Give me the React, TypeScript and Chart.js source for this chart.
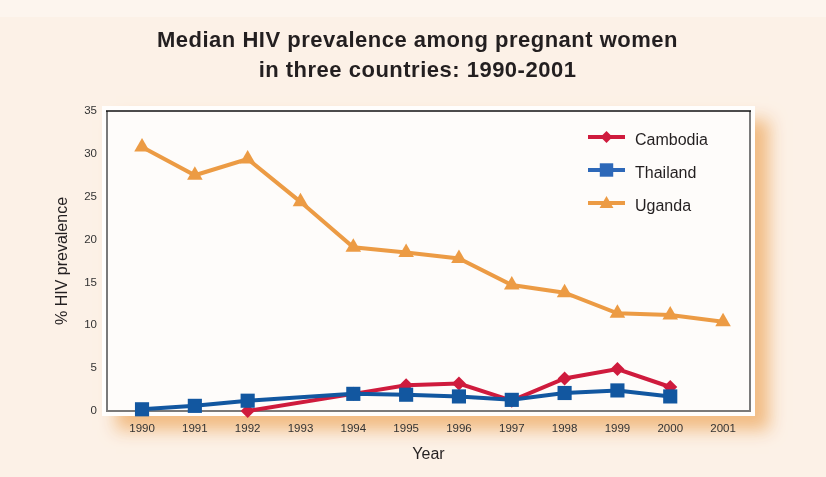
import React, { useEffect, useRef } from 'react';
import { Chart, registerables } from 'chart.js';

Chart.register(...registerables);

const titleLines = ['Median HIV prevalence among pregnant women', 'in three countries: 1990-2001'];
const years = [1990, 1991, 1992, 1993, 1994, 1995, 1996, 1997, 1998, 1999, 2000, 2001];
const cambodia: (number | null)[] = [null, null, 0, null, 2.0, 3.0, 3.2, 1.2, 3.8, 4.9, 2.8, null];
const thailand: (number | null)[] = [0.2, 0.6, 1.2, null, 2.0, 1.9, 1.7, 1.3, 2.1, 2.4, 1.7, null];
const uganda: (number | null)[] = [30.8, 27.5, 29.4, 24.4, 19.1, 18.5, 17.8, 14.7, 13.8, 11.4, 11.2, 10.4];
const seriesNames = ['Cambodia', 'Thailand', 'Uganda'];
const yTickStep = 5;
const yMax = 35;
const xTitle = 'Year';
const yTitle = '% HIV prevalence';

const RED = '#cf1b3d';
const BLUE = '#1257a0';
const ORANGE = '#ec9b44';
const FONT = '"Liberation Sans", Arial, Helvetica, sans-serif';

const toPoints = (arr: (number | null)[]) =>
  years.map((x, i) => ({ x, y: arr[i] })).filter((p) => p.y !== null) as { x: number; y: number }[];

function drawMarker(ctx: CanvasRenderingContext2D, style: string, x: number, y: number, r: number) {
  ctx.beginPath();
  if (style === 'rect') {
    const s = r * Math.SQRT1_2;
    ctx.rect(x - s, y - s, 2 * s, 2 * s);
  } else if (style === 'rectRot') {
    ctx.moveTo(x, y - r);
    ctx.lineTo(x + r, y);
    ctx.lineTo(x, y + r);
    ctx.lineTo(x - r, y);
    ctx.closePath();
  } else {
    ctx.moveTo(x, y - r);
    ctx.lineTo(x + r * 0.866, y + r * 0.5);
    ctx.lineTo(x - r * 0.866, y + r * 0.5);
    ctx.closePath();
  }
  ctx.fill();
}

const decorPlugin = {
  id: 'decor',
  beforeDraw(chart: any) {
    const { ctx, width, height, chartArea: a } = chart;
    ctx.save();
    ctx.fillStyle = '#fcf1e7';
    ctx.fillRect(0, 0, width, height);
    ctx.fillStyle = '#fdf5ee';
    ctx.fillRect(0, 0, width, 17);
    // soft orange shadow + white frame
    ctx.shadowColor = 'rgba(240, 184, 125, 0.95)';
    ctx.shadowBlur = 16;
    ctx.shadowOffsetX = 14;
    ctx.shadowOffsetY = 14;
    ctx.fillStyle = '#fffefd';
    ctx.fillRect(a.left - 5, a.top - 5, a.right - a.left + 10, a.bottom - a.top + 10);
    ctx.restore();
    ctx.save();
    ctx.fillStyle = '#fefcfa';
    ctx.fillRect(a.left, a.top, a.right - a.left, a.bottom - a.top);
    // title
    ctx.fillStyle = '#231f20';
    ctx.font = `bold 22px ${FONT}`;
    ctx.textAlign = 'center';
    ctx.textBaseline = 'alphabetic';
    try { (ctx as any).letterSpacing = '0.5px'; } catch (e) {}
    const cx = (a.left + a.right) / 2 - 11;
    ctx.fillText(titleLines[0], cx, 47);
    ctx.fillText(titleLines[1], cx, 77);
    ctx.restore();
  },
  beforeDatasetsDraw(chart: any) {
    const { ctx, chartArea: a } = chart;
    ctx.save();
    ctx.lineCap = 'butt';
    ctx.strokeStyle = '#7a7a7a';
    ctx.lineWidth = 2;
    ctx.beginPath();
    ctx.moveTo(a.left, a.top);
    ctx.lineTo(a.left, a.bottom);
    ctx.lineTo(a.right, a.bottom);
    ctx.lineTo(a.right, a.top);
    ctx.stroke();
    ctx.strokeStyle = '#111';
    ctx.lineWidth = 1.5;
    ctx.beginPath();
    ctx.moveTo(a.left - 1, a.top);
    ctx.lineTo(a.right + 1, a.top);
    ctx.stroke();
    ctx.restore();
  },
  afterDraw(chart: any) {
    const { ctx, chartArea: a } = chart;
    const x0 = a.right - 162;
    const lineLen = 37;
    const rowY0 = a.top + 26;
    const rowGap = 33;
    const styles = ['rectRot', 'rect', 'triangle'];
    const colors = [RED, '#2d68b8', ORANGE];
    const radii = [6, 9.5, 8];
    ctx.save();
    seriesNames.forEach((name, i) => {
      const y = rowY0 + i * rowGap;
      ctx.strokeStyle = colors[i];
      ctx.fillStyle = colors[i];
      ctx.lineWidth = 4;
      ctx.beginPath();
      ctx.moveTo(x0, y);
      ctx.lineTo(x0 + lineLen, y);
      ctx.stroke();
      drawMarker(ctx, styles[i], x0 + lineLen / 2, y + (i === 2 ? 1 : 0), radii[i]);
      ctx.fillStyle = '#231f20';
      ctx.font = `16px ${FONT}`;
      ctx.textAlign = 'left';
      ctx.textBaseline = 'middle';
      ctx.fillText(name, x0 + 47, y + 4);
    });
    ctx.restore();
  },
};

export default function App() {
  const ref = useRef<HTMLCanvasElement | null>(null);
  useEffect(() => {
    if (!ref.current) return;
    const chart = new Chart(ref.current, {
      type: 'line',
      data: {
        datasets: [
          {
            label: seriesNames[0],
            data: toPoints(cambodia),
            borderColor: RED,
            backgroundColor: RED,
            borderWidth: 4,
            pointStyle: 'rectRot',
            pointRadius: 7,
            pointBorderWidth: 0,
            spanGaps: true,
            clip: false,
            order: 1,
          },
          {
            label: seriesNames[1],
            data: toPoints(thailand),
            borderColor: BLUE,
            backgroundColor: BLUE,
            borderWidth: 4,
            pointStyle: 'rect',
            pointRadius: 10,
            pointBorderWidth: 0,
            spanGaps: true,
            clip: false,
            order: 0,
          },
          {
            label: seriesNames[2],
            data: toPoints(uganda),
            borderColor: ORANGE,
            backgroundColor: ORANGE,
            borderWidth: 4,
            pointStyle: 'triangle',
            pointRadius: 9,
            pointBorderWidth: 0,
            spanGaps: true,
            clip: false,
            order: 2,
          },
        ],
      },
      options: {
        responsive: false,
        animation: false,
        devicePixelRatio: 1,
        layout: { padding: { top: 111, right: 76, left: 0, bottom: 0 } },
        plugins: { legend: { display: false }, tooltip: { enabled: false }, title: { display: false } },
        scales: {
          x: {
            type: 'linear',
            min: 1989.337,
            max: 2001.51,
            grid: { display: false, drawTicks: false },
            border: { display: false },
            afterBuildTicks: (scale: any) => {
              scale.ticks = years.map((v) => ({ value: v }));
            },
            afterFit: (scale: any) => {
              scale.height = 66;
            },
            ticks: {
              autoSkip: false,
              maxRotation: 0,
              padding: 11,
              color: '#333',
              font: { family: FONT, size: 11.5 },
              callback: (v: any) => String(v),
            },
            title: {
              display: true,
              text: xTitle,
              color: '#231f20',
              font: { family: FONT, size: 16 },
              padding: { top: 0, bottom: 12.5 },
            },
          },
          y: {
            min: 0,
            max: yMax,
            grid: { display: false, drawTicks: false },
            border: { display: false },
            afterFit: (scale: any) => {
              scale.width = 107;
            },
            ticks: {
              stepSize: yTickStep,
              padding: 10,
              color: '#333',
              font: { family: FONT, size: 11.5 },
            },
            title: {
              display: true,
              text: yTitle,
              color: '#231f20',
              font: { family: FONT, size: 16 },
              padding: { top: 53, bottom: 0 },
            },
          },
        },
      },
      plugins: [decorPlugin],
    } as any);
    return () => chart.destroy();
  }, []);
  return (
    <div style={{ position: 'absolute', left: 0, top: 0, width: 826, height: 477 }}>
      <canvas ref={ref} width={826} height={477} style={{ display: 'block', width: 826, height: 477 }} />
    </div>
  );
}
